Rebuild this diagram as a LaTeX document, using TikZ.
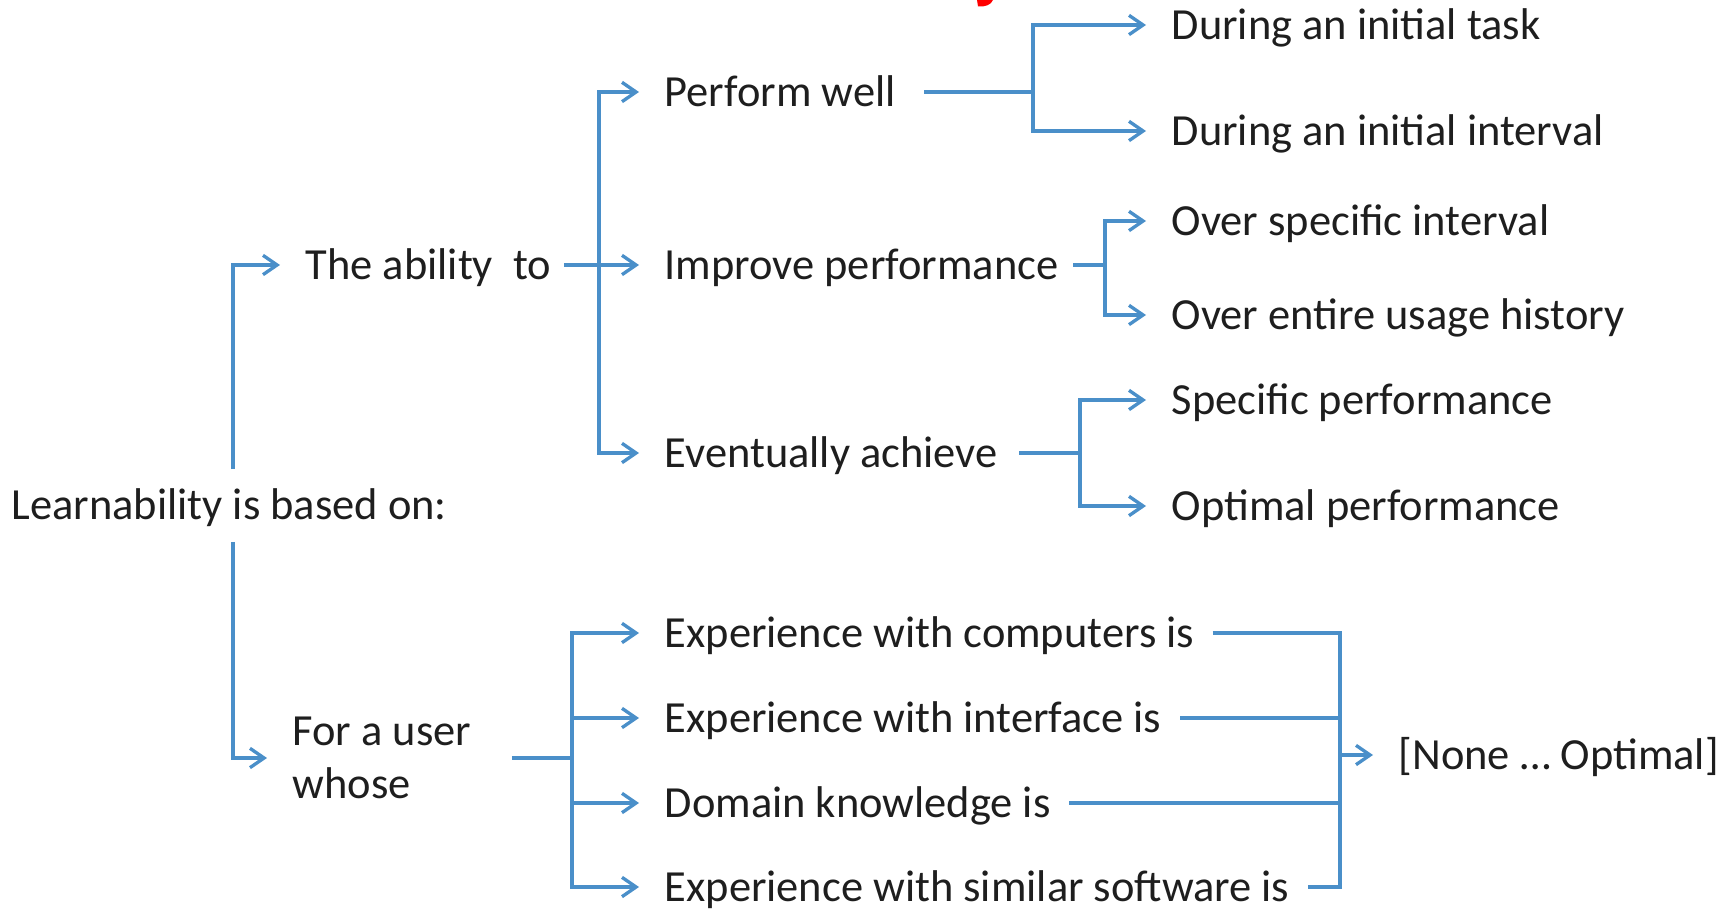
\documentclass[tikz,border=0pt]{standalone}
\usepackage{fontspec}
\setmainfont{Carlito}
\usepackage{tikz}
\usetikzlibrary{arrows.meta, positioning}
\definecolor{LinkBlue}{HTML}{4A8FC9}
\definecolor{TextDark}{HTML}{1E1E1E}
\definecolor{TitleRed}{HTML}{FF0000}

\begin{document}
\begin{tikzpicture}[
  base/.style={anchor=west, inner sep=0pt, text=TextDark,
    font=\fontsize{12.65}{15.1}\selectfont},
  item/.style={base, text height=8.1pt, text depth=0pt},
  line/.style={line width=0.95pt, color=LinkBlue},
  arr/.style={line, -{Straight Barb[length=4pt, width=5.5pt]}, shorten >=2.5mm}
]
\useasboundingbox (0,0) rectangle (17.33,-9.10);

% tail of the cut-off heading
\fill[TitleRed] (9.77,0) -- (9.93,0) .. controls (9.91,-0.05) and (9.85,-0.07) .. (9.78,-0.065) -- cycle;

% left column
\node[item] (learn) at (0.11,-5.05) {Learnability is based on:};
\node[item] (ability) at (3.05,-2.65) {The ability\ \ to};
\node[base, align=left] (user) at (2.92,-7.58) {For a user\\whose};

% middle column
\node[item] (perform) at (6.64,-0.92) {Perform well};
\node[item] (improve) at (6.64,-2.65) {Improve performance};
\node[item] (achieve) at (6.64,-4.53) {Eventually achieve};

\node[item] (expcomp) at (6.64,-6.33) {Experience with computers is};
\node[item] (expint) at (6.64,-7.18) {Experience with interface is};
\node[item] (domain) at (6.64,-8.03) {Domain knowledge is};
\node[item] (expsoft) at (6.64,-8.87) {Experience with similar software is};

% right column
\node[item] (task) at (11.71,-0.25) {During an initial task};
\node[item] (initint) at (11.71,-1.31) {During an initial interval};
\node[item] (specint) at (11.71,-2.21) {Over specific interval};
\node[item] (history) at (11.71,-3.15) {Over entire usage history};
\node[item] (specperf) at (11.71,-4.00) {Specific performance};
\node[item] (optperf) at (11.71,-5.06) {Optimal performance};
\node[item] (range) at (13.98,-7.55) {[None … Optimal]};

% branch points
\coordinate (tab) at (5.99,-2.65);
\coordinate (tpw) at (10.33,-0.92);
\coordinate (tip) at (11.05,-2.65);
\coordinate (tea) at (10.80,-4.53);
\coordinate (tus) at (5.72,-7.58);
\coordinate (tex) at (13.40,-7.55);

% Arrows
\draw[arr] ([xshift=2.22cm,yshift=2.1mm]learn.north west) |- (ability.west);
\draw[arr] ([xshift=2.22cm,yshift=-2.2mm]learn.south west) |- (user.west);

\draw[arr, shorten <=1.2mm] (ability.east) -- (improve.west);
\draw[arr] (tab) |- (perform.west);
\draw[arr] (tab) |- (achieve.west);

\draw[line, shorten <=2.8mm] (perform.east) -- (tpw);
\draw[arr] (tpw) |- (task.west);
\draw[arr] (tpw) |- (initint.west);

\draw[line, shorten <=1.4mm] (improve.east) -- (tip);
\draw[arr] (tip) |- (specint.west);
\draw[arr] (tip) |- (history.west);

\draw[line, shorten <=2.1mm] (achieve.east) -- (tea);
\draw[arr] (tea) |- (specperf.west);
\draw[arr] (tea) |- (optperf.west);

\draw[line, shorten <=4mm] (user.east) -- (tus);
\foreach \n in {expcomp, expint, domain, expsoft}
  \draw[arr] (tus) |- (\n.west);

\foreach \n in {expcomp, expint, domain, expsoft}
  \draw[line, shorten <=1.8mm] (\n.east) -| (tex);
\draw[arr] (tex) -- (range.west);

\end{tikzpicture}
\end{document}
